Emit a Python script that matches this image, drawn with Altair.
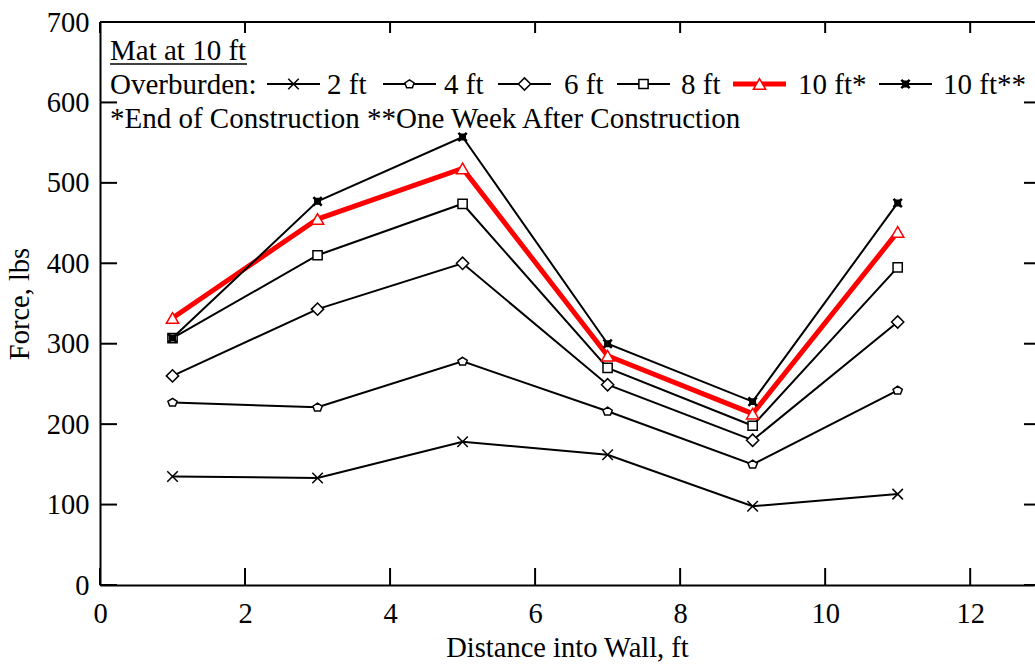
import altair as alt
import pandas as pd

# Measured tendon force along the wall, mat at 10 ft
distance_ft = [1, 3, 5, 7, 9, 11]
series_names = ["2 ft", "4 ft", "6 ft", "8 ft", "10 ft*", "10 ft**"]
force_2ft = [135, 133, 178, 162, 98, 113]
force_4ft = [227, 221, 278, 216, 150, 242]
force_6ft = [260, 343, 400, 249, 180, 327]
force_8ft = [307, 410, 474, 270, 198, 395]
force_10ft_eoc = [332, 455, 518, 285, 213, 439]
force_10ft_week = [307, 477, 557, 300, 228, 475]
x_ticks = [0, 2, 4, 6, 8, 10, 12]
y_ticks = [0, 100, 200, 300, 400, 500, 600, 700]

legend_heading = "Mat at 10 ft"
legend_prefix = "Overburden:"
legend_note = "*End of Construction **One Week After Construction"

FONT = "Liberation Serif"
FS = 28.5
FS_LEG = 29
W, H = 934, 563

X_PATH = "M-1,-1L1,1M-1,1L1,-1"
PENTAGON = "M0,-0.85L0.95,-0.22L0.59,0.75L-0.59,0.75L-0.95,-0.22Z"

# style per series: colour, line width, marker shape, marker size, marker fill
styles = [
    ("black", 2, X_PATH, 110, "white"),
    ("black", 2, PENTAGON, 95, "white"),
    ("black", 2, "diamond", 150, "white"),
    ("black", 2, "square", 85, "white"),
    ("#ff0000", 5, "triangle-up", 150, "white"),
    ("black", 2, "square", 30, "black"),
]
series_values = [force_2ft, force_4ft, force_6ft, force_8ft, force_10ft_eoc, force_10ft_week]

x_scale = alt.Scale(domain=[0, 12.88], nice=False, zero=False)
y_scale = alt.Scale(domain=[0, 700], nice=False)
x_axis = alt.Axis(
    values=x_ticks, ticks=False, tickSize=0, grid=False, domainColor="black", domainWidth=2,
    labelFont=FONT, labelFontSize=FS, labelColor="black", labelPadding=14, labelFlush=False,
    title="Distance into Wall, ft", titleFont=FONT, titleFontSize=FS, titleFontWeight="normal",
    titleColor="black", titlePadding=6,
)
y_axis = alt.Axis(
    values=y_ticks, ticks=False, tickSize=0, grid=False, domainColor="black", domainWidth=2,
    labelFont=FONT, labelFontSize=FS, labelColor="black", labelPadding=11, labelFlush=False,
    title="Force, lbs", titleFont=FONT, titleFontSize=FS, titleFontWeight="normal",
    titleColor="black", titlePadding=12,
)


def xq(field="distance"):
    return alt.X(f"{field}:Q", scale=x_scale, axis=x_axis)


def yq(field="force"):
    return alt.Y(f"{field}:Q", scale=y_scale, axis=y_axis)


layers = []

# inward tick marks on all four sides, plus the top frame line
xt = pd.DataFrame({"distance": x_ticks})
yt = pd.DataFrame({"force": y_ticks})
one = pd.DataFrame({"k": [0]})
layers.append(alt.Chart(xt).mark_rule(color="black", strokeWidth=2).encode(
    x=xq(), y=alt.value(H), y2=alt.value(H - 17)))
layers.append(alt.Chart(xt).mark_rule(color="black", strokeWidth=2).encode(
    x=xq(), y=alt.value(0), y2=alt.value(11)))
layers.append(alt.Chart(yt).mark_rule(color="black", strokeWidth=2).encode(
    y=yq(), x=alt.value(0), x2=alt.value(17)))
layers.append(alt.Chart(yt).mark_rule(color="black", strokeWidth=2).encode(
    y=yq(), x=alt.value(W + 1), x2=alt.value(W - 10)))
layers.append(alt.Chart(one).mark_rule(color="black", strokeWidth=2).encode(
    x=alt.value(0), x2=alt.value(W + 1), y=alt.value(0)))

# data lines
for name, vals, (col, lw, shp, sz, fill) in zip(series_names, series_values, styles):
    d = pd.DataFrame({"distance": distance_ft, "force": vals, "series": name})
    layers.append(alt.Chart(d).mark_line(color=col, strokeWidth=lw).encode(
        x=xq(), y=yq(), order="distance:Q"))

# data markers
for name, vals, (col, lw, shp, sz, fill) in zip(series_names, series_values, styles):
    d = pd.DataFrame({"distance": distance_ft, "force": vals, "series": name})
    layers.append(alt.Chart(d).mark_point(
        shape=shp, size=sz, filled=True, fill=fill, stroke=col, strokeWidth=1.5, opacity=1
    ).encode(x=xq(), y=yq()))
    if name == "10 ft**":
        layers.append(alt.Chart(d).mark_point(
            shape=X_PATH, size=70, filled=False, stroke="black", strokeWidth=2.5, opacity=1
        ).encode(x=xq(), y=yq()))

# legend block in the upper-left corner of the plot
text_kw = dict(font=FONT, fontSize=FS_LEG, color="black", align="left", baseline="alphabetic")
ROW1, ROW2, ROW3 = 38, 72, 106
KEY_Y = 62
key_starts = [167, 283, 398, 517, 633, 779]
KEY_LEN = 53
text_starts = [227, 344, 464, 581, 698, 843]

layers.append(alt.Chart(one).mark_text(**text_kw).encode(
    x=alt.value(10), y=alt.value(ROW1), text=alt.value(legend_heading)))
layers.append(alt.Chart(one).mark_rule(color="black", strokeWidth=1.5).encode(
    x=alt.value(10), x2=alt.value(147), y=alt.value(ROW1 + 4)))
layers.append(alt.Chart(one).mark_text(**text_kw).encode(
    x=alt.value(10), y=alt.value(ROW2), text=alt.value(legend_prefix)))
layers.append(alt.Chart(one).mark_text(**text_kw).encode(
    x=alt.value(10), y=alt.value(ROW3), text=alt.value(legend_note)))

for name, (col, lw, shp, sz, fill), ks, ts in zip(series_names, styles, key_starts, text_starts):
    mid = ks + KEY_LEN / 2
    layers.append(alt.Chart(one).mark_rule(color=col, strokeWidth=lw).encode(
        x=alt.value(ks), x2=alt.value(ks + KEY_LEN), y=alt.value(KEY_Y)))
    layers.append(alt.Chart(one).mark_point(
        shape=shp, size=sz, filled=True, fill=fill, stroke=col, strokeWidth=1.5, opacity=1
    ).encode(x=alt.value(mid), y=alt.value(KEY_Y)))
    if name == "10 ft**":
        layers.append(alt.Chart(one).mark_point(
            shape=X_PATH, size=70, filled=False, stroke="black", strokeWidth=2.5, opacity=1
        ).encode(x=alt.value(mid), y=alt.value(KEY_Y)))
    layers.append(alt.Chart(one).mark_text(**text_kw).encode(
        x=alt.value(ts), y=alt.value(ROW2), text=alt.value(name)))

chart = alt.layer(*layers).properties(
    width=W, height=H,
    autosize=alt.AutoSizeParams(type="none"),
    padding={"left": 100, "top": 22, "right": 1, "bottom": 79},
    background="white",
).configure_view(stroke=None)

chart.save("out.html", embed_options={"renderer": "svg", "actions": False})
